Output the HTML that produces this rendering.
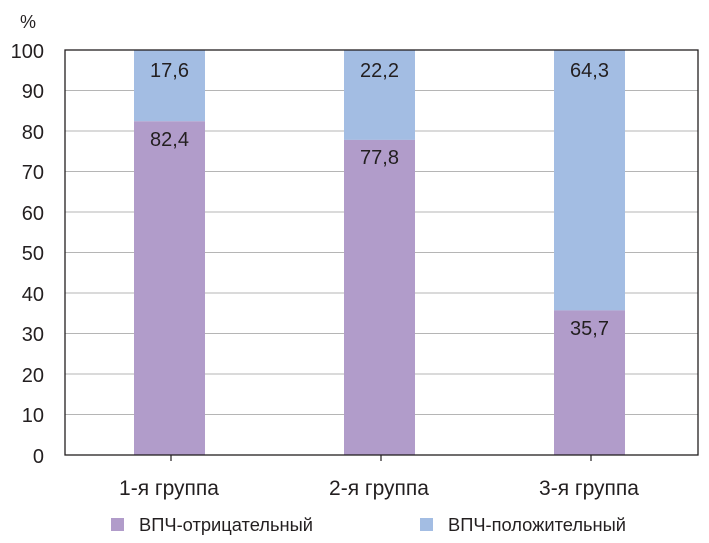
<!DOCTYPE html>
<html><head><meta charset="utf-8"><style>
html,body{margin:0;padding:0;background:#fff}
svg{display:block}
text{font-family:"Liberation Sans",sans-serif;fill:#231f20}
</style></head><body>
<svg width="709" height="543" viewBox="0 0 709 543" xmlns="http://www.w3.org/2000/svg">
<g stroke="#b5b5b5" stroke-width="1">
<line x1="65" x2="698" y1="90.5" y2="90.5"/>
<line x1="65" x2="698" y1="131" y2="131"/>
<line x1="65" x2="698" y1="171.5" y2="171.5"/>
<line x1="65" x2="698" y1="212" y2="212"/>
<line x1="65" x2="698" y1="252.5" y2="252.5"/>
<line x1="65" x2="698" y1="293" y2="293"/>
<line x1="65" x2="698" y1="333.5" y2="333.5"/>
<line x1="65" x2="698" y1="374" y2="374"/>
<line x1="65" x2="698" y1="414.5" y2="414.5"/>
</g>
<rect x="134" y="50" width="71" height="71.3" fill="#a3bde3"/>
<rect x="134" y="121.3" width="71" height="333.7" fill="#b19cca"/>
<rect x="344" y="50" width="71" height="89.9" fill="#a3bde3"/>
<rect x="344" y="139.9" width="71" height="315.1" fill="#b19cca"/>
<rect x="554" y="50" width="71" height="260.4" fill="#a3bde3"/>
<rect x="554" y="310.4" width="71" height="144.6" fill="#b19cca"/>
<rect x="65" y="50" width="633" height="405" fill="none" stroke="#231f20" stroke-width="1.3"/>
<g stroke="#231f20" stroke-width="1.2">
<line x1="171" x2="171" y1="455" y2="461"/>
<line x1="381" x2="381" y1="455" y2="461"/>
<line x1="591" x2="591" y1="455" y2="461"/>
</g>
<g font-size="20" text-anchor="end">
<text x="44" y="58">100</text>
<text x="44" y="98">90</text>
<text x="44" y="139">80</text>
<text x="44" y="179">70</text>
<text x="44" y="220">60</text>
<text x="44" y="260">50</text>
<text x="44" y="301">40</text>
<text x="44" y="341">30</text>
<text x="44" y="382">20</text>
<text x="44" y="422">10</text>
<text x="44" y="463">0</text>
</g>
<text x="20" y="28" font-size="18">%</text>
<g font-size="20" text-anchor="middle">
<text x="169.5" y="77">17,6</text>
<text x="169.5" y="146">82,4</text>
<text x="379.5" y="77">22,2</text>
<text x="379.5" y="164">77,8</text>
<text x="589.5" y="77">64,3</text>
<text x="589.5" y="335">35,7</text>
</g>
<g font-size="21" text-anchor="middle">
<text x="169" y="495">1-я группа</text>
<text x="379" y="495">2-я группа</text>
<text x="589" y="495">3-я группа</text>
</g>
<rect x="111" y="518" width="13" height="13" fill="#b19cca"/>
<text x="139" y="531" font-size="18" textLength="174" lengthAdjust="spacingAndGlyphs">ВПЧ-отрицательный</text>
<rect x="420" y="518" width="13" height="13" fill="#a3bde3"/>
<text x="448" y="531" font-size="18" textLength="178" lengthAdjust="spacingAndGlyphs">ВПЧ-положительный</text>
</svg>
</body></html>
